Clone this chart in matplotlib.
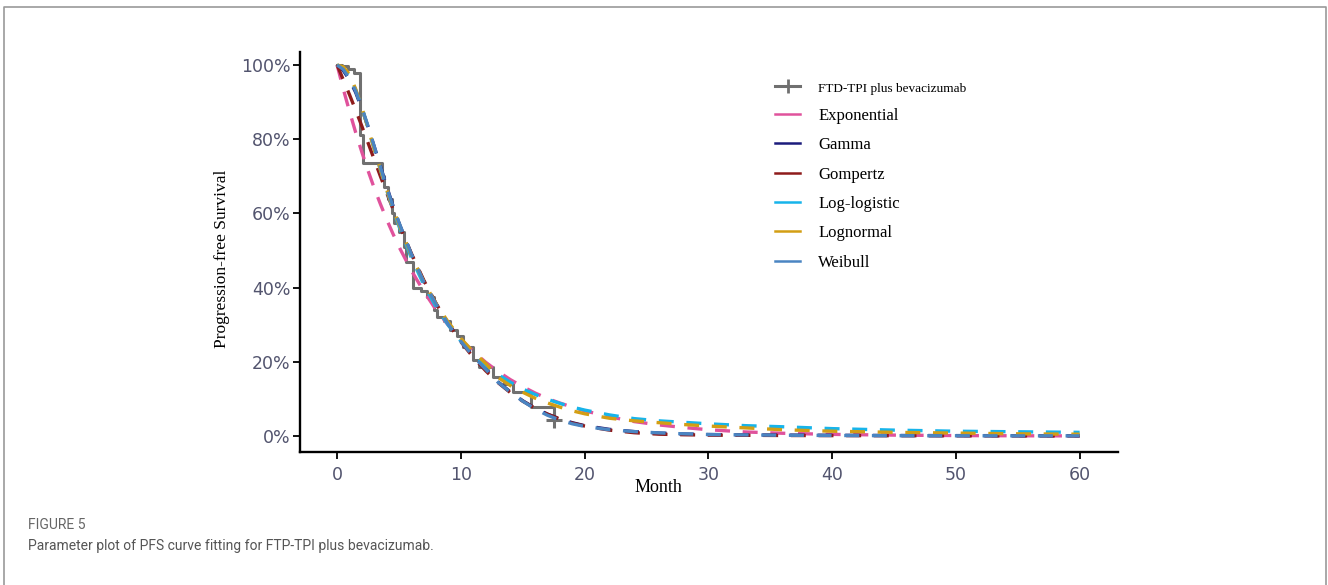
import matplotlib
matplotlib.use('Agg')
from matplotlib import pyplot as plt
from matplotlib.lines import Line2D

# Kaplan-Meier steps (month, % progression-free)
km_month = [0, 0.4, 0.9, 1.4, 1.85, 2.1, 3.6, 3.8, 4.1, 4.4, 4.6, 5.0, 5.4, 5.6, 6.1, 6.8, 7.3,
            7.8, 8.1, 8.6, 9.1, 9.7, 10.2, 11.0, 11.5, 12.6, 13.5, 14.2, 15.7, 17.5]
km_surv = [100, 99.6, 99.0, 97.8, 81.0, 73.6, 70.0, 67.0, 64.0, 60.0, 57.5, 55.0, 51.0, 47.0, 40.0,
           39.0, 37.5, 34.0, 32.0, 31.0, 28.5, 27.0, 24.0, 20.5, 18.5, 16.0, 14.0, 12.0, 7.8, 4.2]
km_censor_month = [17.5]
km_censor_surv = [4.2]

fit_month = [0, 0.5, 1, 1.5, 2, 2.5, 3, 3.5, 4, 4.5, 5, 6, 7, 8, 9, 10, 11, 12, 13, 14, 15,
             16, 17, 18, 19, 20, 22, 24, 26, 28, 30, 33, 36, 40, 45, 50, 55, 60]
exponential = [100, 93.5, 87.5, 81.8, 76.5, 71.5, 66.8, 62.5, 58.4, 54.6, 51.0, 44.6, 39.0, 34.0,
               29.8, 26.0, 22.8, 19.9, 17.4, 15.2, 13.3, 11.6, 10.1, 8.9, 7.8, 6.8, 5.2, 3.9, 3.0,
               2.3, 1.7, 1.1, 0.75, 0.45, 0.25, 0.13, 0.07, 0.04]
gamma = [100, 98.5, 96.0, 92.6, 88.2, 83.3, 78.0, 72.7, 67.3, 62.2, 57.4, 49.0, 41.8, 35.6, 30.2,
         25.6, 21.6, 18.2, 14.6, 11.9, 9.5, 7.5, 5.9, 4.6, 3.6, 2.8, 1.8, 1.2, 0.8, 0.55, 0.4,
         0.3, 0.25, 0.2, 0.15, 0.12, 0.1, 0.08]
gompertz = [100, 96.0, 92.0, 87.8, 83.5, 79.0, 74.5, 70.0, 65.6, 61.3, 57.0, 49.2, 42.0, 35.7, 30.2,
            25.4, 21.2, 17.6, 14.4, 11.7, 9.4, 7.5, 5.9, 4.6, 3.5, 2.7, 1.6, 0.9, 0.5, 0.35, 0.25,
            0.2, 0.15, 0.12, 0.1, 0.08, 0.06, 0.05]
loglogistic = [100, 99.2, 97.0, 93.3, 88.5, 83.0, 77.3, 71.7, 66.3, 61.2, 56.5, 48.0, 40.8, 34.8,
               29.8, 25.6, 22.1, 19.1, 16.6, 14.5, 12.7, 11.2, 9.9, 8.8, 7.8, 7.0, 5.7, 4.7, 4.1,
               3.7, 3.3, 2.8, 2.5, 2.0, 1.6, 1.3, 1.15, 1.0]
lognormal = [100, 99.5, 97.5, 93.5, 88.5, 83.0, 77.3, 71.8, 66.5, 61.5, 57.0, 48.7, 41.6, 35.6,
             30.6, 26.3, 22.7, 19.6, 15.8, 13.6, 11.8, 10.2, 8.9, 7.8, 6.8, 6.0, 4.8, 4.1, 3.6,
             3.1, 2.7, 2.2, 1.7, 1.3, 1.0, 0.8, 0.6, 0.5]
weibull = [100, 98.8, 96.3, 93.0, 88.5, 83.5, 78.0, 72.5, 67.0, 62.0, 57.5, 49.0, 41.5, 35.5, 30.0,
           25.5, 21.5, 18.0, 14.5, 11.8, 9.4, 7.3, 5.6, 4.3, 3.3, 2.6, 1.7, 1.2, 0.85, 0.6, 0.42,
           0.3, 0.22, 0.15, 0.1, 0.08, 0.06, 0.05]

fit_names = ['Exponential', 'Gamma', 'Gompertz', 'Log-logistic', 'Lognormal', 'Weibull']
fit_values = [exponential, gamma, gompertz, loglogistic, lognormal, weibull]
fit_colors = ['#E0529C', '#1C1C7C', '#8E1B1B', '#17B4EA', '#D39E14', '#4A85C2']

x_ticks = [0, 10, 20, 30, 40, 50, 60]
y_ticks = [0, 20, 40, 60, 80, 100]

fig = plt.figure(figsize=(13.28, 5.85), dpi=100)
ax = fig.add_axes([300/1328, 1-452/585, 818/1328, 400/585])

km_color = '#707070'
ax.plot(km_month, km_surv, drawstyle='steps-post', color=km_color, lw=2.2, zorder=2)
ax.plot(km_censor_month, km_censor_surv, ls='none', marker='+', ms=12, mew=2.2,
        color=km_color, zorder=2)

for vals, col in zip(fit_values, fit_colors):
    ax.plot(fit_month, vals, color=col, lw=2.4, dashes=(4.5, 3.8), zorder=3)

ax.set_xlim(-3.0, 63.1)
ax.set_ylim(-4.3, 103.5)
ax.set_xticks(x_ticks)
ax.set_yticks(y_ticks)
ax.set_yticklabels(['%d%%' % v for v in y_ticks])
for s in ['top', 'right']:
    ax.spines[s].set_visible(False)
for s in ['left', 'bottom']:
    ax.spines[s].set_linewidth(1.7)
ax.tick_params(length=5, width=1.3, pad=2, labelsize=12.5, labelcolor='#52546e')
ax.tick_params(axis='x', pad=5)

ax.set_ylabel('Progression-free Survival', family='Liberation Serif', fontsize=12.5)
ax.yaxis.set_label_coords(-0.0856, 0.4825)
ax.text(0.4377, -0.0875, 'Month', transform=ax.transAxes, family='Liberation Serif',
        fontsize=13, ha='center', va='center')

handles = [Line2D([], [], color=km_color, lw=2.2, marker='+', ms=10, mew=2)]
handles += [Line2D([], [], color=c, lw=1.8) for c in fit_colors]
labels = ['FTD-TPI plus bevacizumab'] + fit_names
leg = ax.legend(handles, labels, loc='upper left', bbox_to_anchor=(0.5807, 0.93),
                frameon=False, prop={'family': 'Liberation Serif', 'size': 12},
                handlelength=1.5, handletextpad=1.1, labelspacing=0.8,
                borderpad=0, borderaxespad=0)
leg.get_texts()[0].set_fontsize(9.5)

# page frame and caption
fig.add_artist(Line2D([4/1328, 4/1328, 1326/1328, 1326/1328], [0, 1-7/585, 1-7/585, 0],
                      color='#9a9a9a', lw=1.2))
fig.text(28/1328, 1-525/585, 'FIGURE 5', family='Roboto', fontsize=10, color='#666666',
         va='center')
fig.text(28/1328, 1-546/585, 'Parameter plot of PFS curve fitting for FTP-TPI plus bevacizumab.',
         family='Roboto', fontsize=10.0, color='#555555', va='center')

fig.savefig('out.png', dpi=100)
